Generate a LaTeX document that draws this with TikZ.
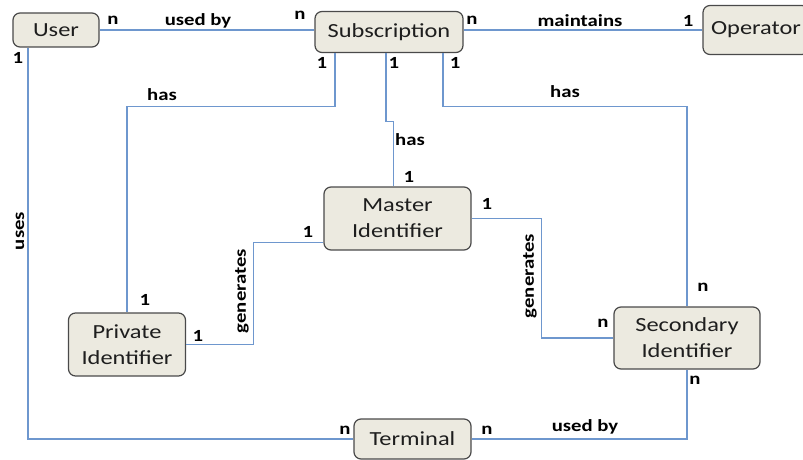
\documentclass[tikz,border=0pt]{standalone}
\usepackage{fontspec}
\setmainfont{Carlito}[FakeStretch=1.22]
\usetikzlibrary{calc,positioning}
\definecolor{Box}{HTML}{ECEAE0}
\definecolor{Rim}{HTML}{4A4A4A}
\definecolor{Wire}{HTML}{6E97CE}
\definecolor{Ink}{HTML}{1E1E1E}
\tikzset{
  entity/.style={
    rounded corners=7pt, draw=Rim, line width=1.2pt, fill=Box,
    text=Ink, align=center, font=\fontsize{20}{26}\selectfont, inner sep=0pt
  },
  link/.style={draw=Wire, line width=1.1pt},
  card/.style={font=\fontsize{17}{19}\selectfont\bfseries, inner sep=0pt},
  rel/.style={font=\fontsize{17}{19}\selectfont\bfseries, inner sep=0pt}
}

\begin{document}
\begin{tikzpicture}[x=1pt,y=-1pt]
    \useasboundingbox (0,0) rectangle (803,460);
    % entities
    \node[entity,minimum width=86,minimum height=34] (user) at (56,30) {User};
    \node[entity,minimum width=148,minimum height=41] (sub) at (389,32) {Subscription};
    \node[entity,minimum width=106,minimum height=49] (op) at (756,30) {Operator};
    \node[entity,minimum width=147,minimum height=63] (master) at (397.5,218.5) {Master\\Identifier};
    \node[entity,minimum width=117,minimum height=63] (priv) at (127,344.5) {Private\\Identifier};
    \node[entity,minimum width=146,minimum height=62] (sec) at (687,338) {Secondary\\Identifier};
    \node[entity,minimum width=117,minimum height=40] (term) at (412.5,439) {Terminal};
    % relationships
    \draw[link] (user.east) -- (user.east -| sub.west);
    \draw[link] (op.west -| sub.east) -- (op.west);
    \draw[link] ([xshift=-28]user.south) |- (term.west);
    \draw[link] ([xshift=-54]sub.south) -- ++(0,53) -| (priv.north);
    \draw[link] ([xshift=-3]sub.south) -- ++(0,68) -| ([xshift=-4]master.north);
    \draw[link] ([xshift=54]sub.south) -- ++(0,53) -| (sec.north);
    \draw[link] (master.east) -- ++(70,0) |- (sec.west);
    \draw[link] ([yshift=-24]master.west) -- ++(-70,0) |- (priv.east);
    \draw[link] (sec.south) |- (term.east);
    % labels
    \node[card] (c1) at (113,20) {n};
    \node[rel] (r1) at (198,21) {used by};
    \node[card] (c2) at (300,15) {n};
    \node[card] (c3) at (472,20) {n};
    \node[rel] (r2) at (580,21) {maintains};
    \node[card] (c4) at (688,21) {1};
    \node[card] (c5) at (18,58) {1};
    \node[rel,rotate=90] (r3) at (20,231) {uses};
    \node[card] (c6) at (322,63) {1};
    \node[card] (c7) at (394,63) {1};
    \node[card] (c8) at (455,63) {1};
    \node[rel] (r4) at (162,95) {has};
    \node[rel] (r5) at (565,92) {has};
    \node[rel] (r6) at (410,140) {has};
    \node[card] (c9) at (409,177) {1};
    \node[card] (c10) at (145,300) {1};
    \node[card] (c11) at (308,232) {1};
    \node[rel,rotate=90] (r7) at (242,291) {generates};
    \node[card] (c12) at (198,336) {1};
    \node[card] (c13) at (487,204) {1};
    \node[rel,rotate=90] (r8) at (530,276) {generates};
    \node[card] (c14) at (603,323) {n};
    \node[card] (c15) at (703,287) {n};
    \node[card] (c16) at (695,380) {n};
    \node[card] (c17) at (345,430) {n};
    \node[card] (c18) at (487,430) {n};
    \node[rel] (r9) at (585,427) {used by};
\end{tikzpicture}
\end{document}
